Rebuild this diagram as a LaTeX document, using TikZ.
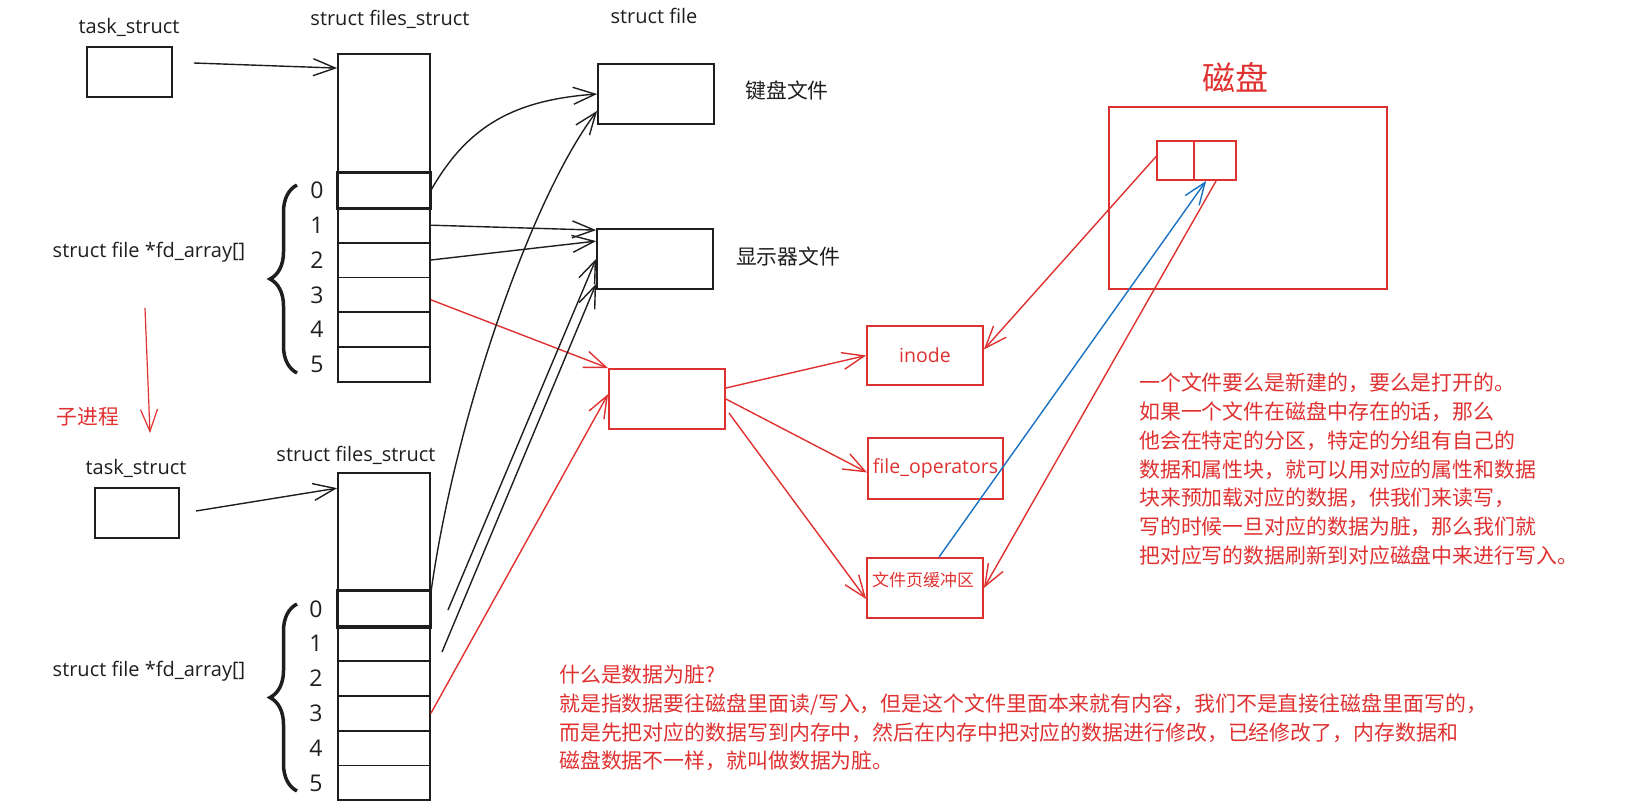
\documentclass[tikz,border=0pt]{standalone}
\usepackage{fontspec}
\setmainfont{Open Sans}
\newfontfamily\cjk{Noto Sans CJK SC}
\usetikzlibrary{arrows.meta}
\usetikzlibrary{decorations.pathreplacing}
\definecolor{rojo}{HTML}{E03131}
\definecolor{azul}{HTML}{1971C2}
\definecolor{negro}{HTML}{1E1E1E}

\begin{document}
\begin{tikzpicture}[x=1pt, y=-1pt, >={Straight Barb[length=22pt,width=17pt]},
  every node/.style={inner sep=0pt},
  caja/.style={draw=negro, line width=1.8pt, minimum width=116pt, minimum height=60pt},
  celda/.style={draw=negro, line width=1.8pt, minimum width=92pt, minimum height=34.8pt},
  cajaroja/.style={draw=rojo, line width=1.8pt, minimum width=116pt, minimum height=60pt},
  etiqueta/.style={text=negro, font=\fontsize{20}{24}\selectfont},
  numero/.style={text=negro, font=\fontsize{23}{27}\selectfont},
  chino/.style={font=\cjk\fontsize{20.8}{24}\selectfont},
  texto/.style={text=rojo, font=\cjk\fontsize{20.9}{28.7}\selectfont, align=left, anchor=north west},
  llave/.style={negro, line width=3.5pt, decorate, decoration={brace, amplitude=27pt}},
  flecha/.style={->, negro, line width=1.4pt},
  flecharoja/.style={->, rojo, line width=1.4pt}]
  \useasboundingbox (0,0) rectangle (1628,806);

  % Nodos (proceso padre)
  \node[etiqueta] (tarea1) at (129,27) {task\_struct};
  \node[caja, minimum width=85pt, minimum height=50pt] (t1) at (129.5,72) {};
  \node[etiqueta] (lfs1) at (390,19) {struct files\_struct};
  \node[celda, minimum height=119pt] (fs1) at (384,113.5) {};
  \foreach \i in {0,...,5} {
    \node[celda] (a\i) at (384,190.4+34.8*\i) {};
    \node[numero] (na\i) at (317,190.4+34.8*\i) {\i};
  }
  \draw[negro, line width=2.6pt] (a0.north west) rectangle (a0.south east);
  \draw[llave] (297,373) -- (297,185);
  \node[etiqueta] (fd1) at (149,252) {struct file *fd\_array[]};

  % Nodos (proceso hijo)
  \node[text=rojo, chino] (lhijo) at (88,417) {子进程};
  \coordinate (hijo1) at (145,308);
  \coordinate (hijo2) at (150,433);
  \node[etiqueta] (tarea2) at (136,468) {task\_struct};
  \node[caja, minimum width=84pt, minimum height=50pt] (t2) at (137,513) {};
  \node[etiqueta] (lfs2) at (356,455) {struct files\_struct};
  \node[celda, minimum height=118.5pt] (fs2) at (384,532.3) {};
  \foreach \i in {0,...,5} {
    \node[celda] (b\i) at (384,608.9+34.8*\i) {};
    \node[numero] (nb\i) at (316,608.9+34.8*\i) {\i};
  }
  \draw[negro, line width=2.6pt] (b0.north west) rectangle (b0.south east);
  \draw[llave] (297,791) -- (297,604);
  \node[etiqueta] (fd2) at (149,671) {struct file *fd\_array[]};
  \coordinate (p1) at (448,610);
  \coordinate (p2) at (442,652);

  % Nodos (struct file)
  \node[etiqueta] (lsf) at (654,16) {struct file};
  \node[caja] (kbd) at (656,94) {};
  \node[text=negro, chino] (lkbd) at (787,91) {键盘文件};
  \node[caja] (disp) at (655,259) {};
  \node[text=negro, chino] (ldisp) at (788,257) {显示器文件};
  \node[cajaroja] (file) at (667,399) {};
  \node[cajaroja, minimum height=59pt, text=rojo, font=\fontsize{19.5}{23}\selectfont] (inode) at (925,355.5) {inode};
  \node[cajaroja, minimum width=135pt, minimum height=61pt, text=rojo, font=\fontsize{19.5}{23}\selectfont] (fops) at (935.5,468.5) {file\_operators};
  \node[cajaroja] (buf) at (925,588) {};
  \node[text=rojo, font=\cjk\fontsize{17}{20}\selectfont] (lbuf) at (923,580) {文件页缓冲区};

  % Nodos (disco)
  \node[text=rojo, font=\cjk\fontsize{33}{38}\selectfont] (ldisco) at (1235,78) {磁盘};
  \node[draw=rojo, line width=1.8pt, minimum width=278pt, minimum height=182pt] (disco) at (1248,198) {};
  \node[draw=rojo, line width=1.8pt, minimum width=37pt, minimum height=39pt] (blqA) at (1175.5,160.5) {};
  \node[draw=rojo, line width=1.8pt, minimum width=42pt, minimum height=39pt] (blqB) at (1215,160.5) {};

  % Textos
  \node[texto] (nota1) at (1139,373) {一个文件要么是新建的，要么是打开的。\\如果一个文件在磁盘中存在的话，那么\\他会在特定的分区，特定的分组有自己的\\数据和属性块，就可以用对应的属性和数据\\块来预加载对应的数据，供我们来读写，\\写的时候一旦对应的数据为脏，那么我们就\\把对应写的数据刷新到对应磁盘中来进行写入。};
  \node[texto] (nota2) at (559,665) {什么是数据为脏?\\就是指数据要往磁盘里面读/写入，但是这个文件里面本来就有内容，我们不是直接往磁盘里面写的，\\而是先把对应的数据写到内存中，然后在内存中把对应的数据进行修改，已经修改了，内存数据和\\磁盘数据不一样，就叫做数据为脏。};

  % Flechas
  \draw[flecha] ([xshift=21pt,yshift=9pt]t1.east) -- ([yshift=-15pt]fs1.north west);
  \draw[flecha] (a0.east) .. controls (468,125) and (515,100) .. (kbd.west);
  \draw[flecha] (a1.east) -- ([yshift=-2pt]disp.north west);
  \draw[flecha] (a2.east) -- ([yshift=-13pt]disp.north west);
  \draw[flecharoja] ([yshift=-5pt]a3.east) -- (file.north west);

  \draw[flecharoja, line width=1.2pt] (hijo1) -- (hijo2);
  \draw[flecha] ([xshift=16pt,yshift=2pt]t2.east) -- ([yshift=-16pt]fs2.north west);
  \draw[flecha] ([yshift=-2pt]b0.north east) .. controls (455,420) and (530,200) .. ([yshift=14pt]kbd.south west);
  \draw[flecha] (p1) -- ([yshift=31pt]disp.south west);
  \draw[flecha] (p2) -- ([yshift=6pt]disp.south west);
  \draw[flecharoja] (b3.east) -- ([yshift=-26pt]file.north west);

  \draw[flecharoja] ([yshift=11pt]file.east) -- (inode.west);
  \draw[flecharoja] (file.east) -- ([yshift=-4pt]fops.west);
  \draw[flecharoja] ([xshift=3pt,yshift=-14pt]file.east) -- ([yshift=-11pt]buf.west);
  \draw[flecharoja] ([yshift=4pt]blqA.west) -- ([yshift=6pt]inode.east);
  \draw[->, azul, line width=1.4pt] ([xshift=14pt]buf.north) -- ([xshift=13pt]blqB.south west);
  \draw[flecharoja] ([xshift=23pt]blqB.south west) -- (buf.east);
\end{tikzpicture}
\end{document}
